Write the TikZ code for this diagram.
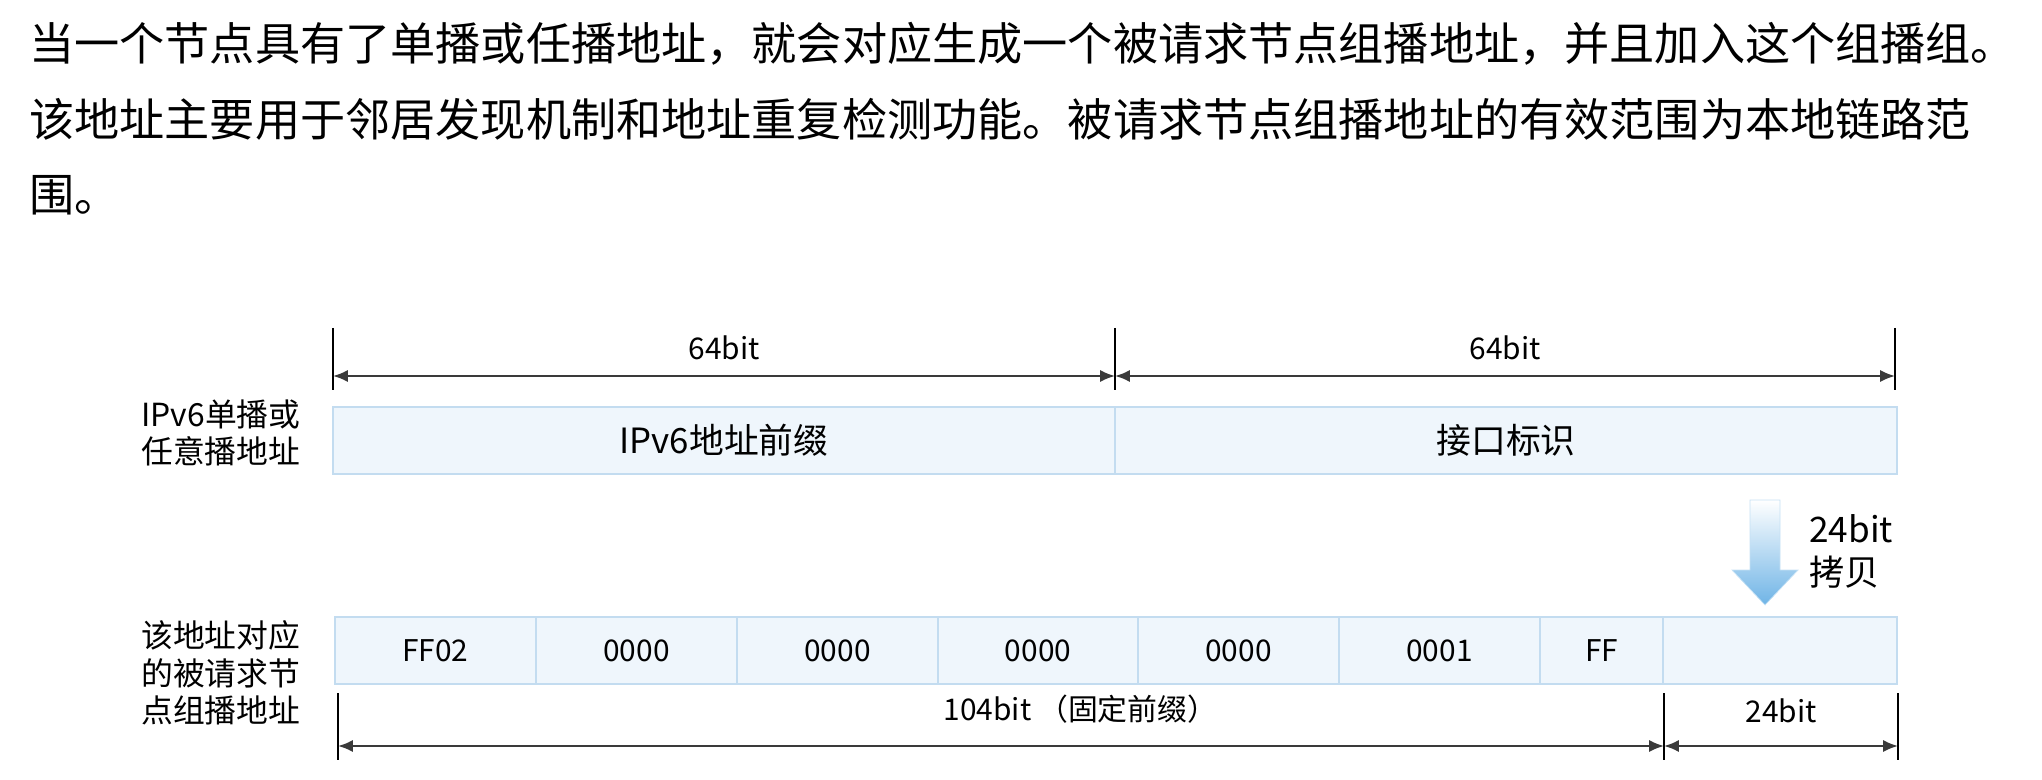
\documentclass[tikz,border=0pt]{standalone}
\usepackage{fontspec}
\setmainfont{Noto Sans CJK SC}
\usepackage{xcolor}
\usetikzlibrary{arrows.meta}
\definecolor{cellfill}{HTML}{EFF6FC}
\definecolor{celldraw}{HTML}{C3DCF0}
\definecolor{copyblue}{HTML}{6FB4E6}
\definecolor{dimgray}{HTML}{3A3A3A}
\newcommand{\cellh}{1.34cm}
\newcommand{\parafont}{\fontsize{25.7}{30}\selectfont}
\newcommand{\boxfont}{\fontsize{19.8}{24}\selectfont}
\newcommand{\labfont}{\fontsize{18.1}{21.5}\selectfont}
\newcommand{\copyfont}{\fontsize{20}{24.5}\selectfont}
\newcommand{\dimfont}{\fontsize{17}{21}\selectfont}

\begin{document}
\begin{tikzpicture}[x=0.02cm,y=-0.02cm]
    \useasboundingbox (0,0) rectangle (2042,780);

    % paragraph
    \begin{scope}[every node/.style={anchor=west,inner sep=0pt,font=\parafont}]
        \node (l1) at (29,44) {当一个节点具有了单播或任播地址，就会对应生成一个被请求节点组播地址，并且加入这个组播组。};
        \node (l2) at (29,119) {该地址主要用于邻居发现机制和地址重复检测功能。被请求节点组播地址的有效范围为本地链路范};
        \node (l3) at (29,195) {围。};
    \end{scope}

    % address boxes
    \begin{scope}[every node/.style={draw=celldraw,fill=cellfill,line width=0.8pt,
            minimum height=\cellh,inner sep=0pt,outer sep=0pt}]
        \node[minimum width=15.64cm,font=\boxfont] (pfx) at (724,440.5) {IPv6地址前缀};
        \node[minimum width=15.64cm,font=\boxfont] (iid) at (1506,440.5) {接口标识};
        \foreach \l/\r/\t [count=\i] in {335/536/FF02,536/737/0000,737/938/0000,938/1138/0000,
                1138/1339/0000,1339/1540/0001,1540/1663/FF,1663/1897/{}}
            \node[minimum width={(\r-\l)*0.02cm},font=\dimfont] (c\i) at ({(\l+\r)/2},650.5) {\t};
    \end{scope}

    % side labels
    \begin{scope}[every node/.style={anchor=west,inner sep=0pt,font=\labfont,align=left}]
        \node (uni) at (141,433) {IPv6单播或\\任意播地址};
        \node (sol) at (141,673) {该地址对应\\的被请求节\\点组播地址};
    \end{scope}

    % ticks
    \coordinate (ta) at (333,328);  \coordinate (ta') at (333,390);
    \coordinate (tb) at (1115,328); \coordinate (tb') at (1115,390);
    \coordinate (tc) at (1895,328); \coordinate (tc') at (1895,390);
    \coordinate (ba) at (338,693);  \coordinate (ba') at (338,760);
    \coordinate (bb) at (1664,693); \coordinate (bb') at (1664,760);
    \coordinate (bc) at (1898,693); \coordinate (bc') at (1898,760);
    \foreach \t in {ta,tb,tc,ba,bb,bc}
        \draw[line width=0.8pt] (\t) -- (\t');

    % dimensions
    \begin{scope}[>={Latex[length=8.5pt,width=7pt]},
        every path/.style={draw=dimgray,line width=1.3pt}]
        \draw[<->] (333,376) -- node[above=5pt,font=\dimfont,text=black] (d1) {64bit} (1115,376);
        \draw[<->] (1115,376) -- node[above=5pt,font=\dimfont,text=black] (d2) {64bit} (1895,376);
        \draw[<->] (338,746) -- node[above=9pt,pos=0.56,font=\dimfont,text=black] (d3) {104bit （固定前缀）} (1664,746);
        \draw[<->] (1664,746) -- node[above=9pt,font=\dimfont,text=black] (d4) {24bit} (1898,746);
    \end{scope}

    % copy arrow
    \shade[top color=white,bottom color=copyblue,draw=copyblue!40,line width=0.4pt]
        (1750,500) -- (1780,500) -- (1780,570) -- (1798,570) -- (1765,605)
        -- (1732,570) -- (1750,570) -- cycle;
    \node[anchor=west,inner sep=0pt,font=\copyfont,align=left] (cp) at (1809,551) {24bit\\拷贝};
\end{tikzpicture}
\end{document}
